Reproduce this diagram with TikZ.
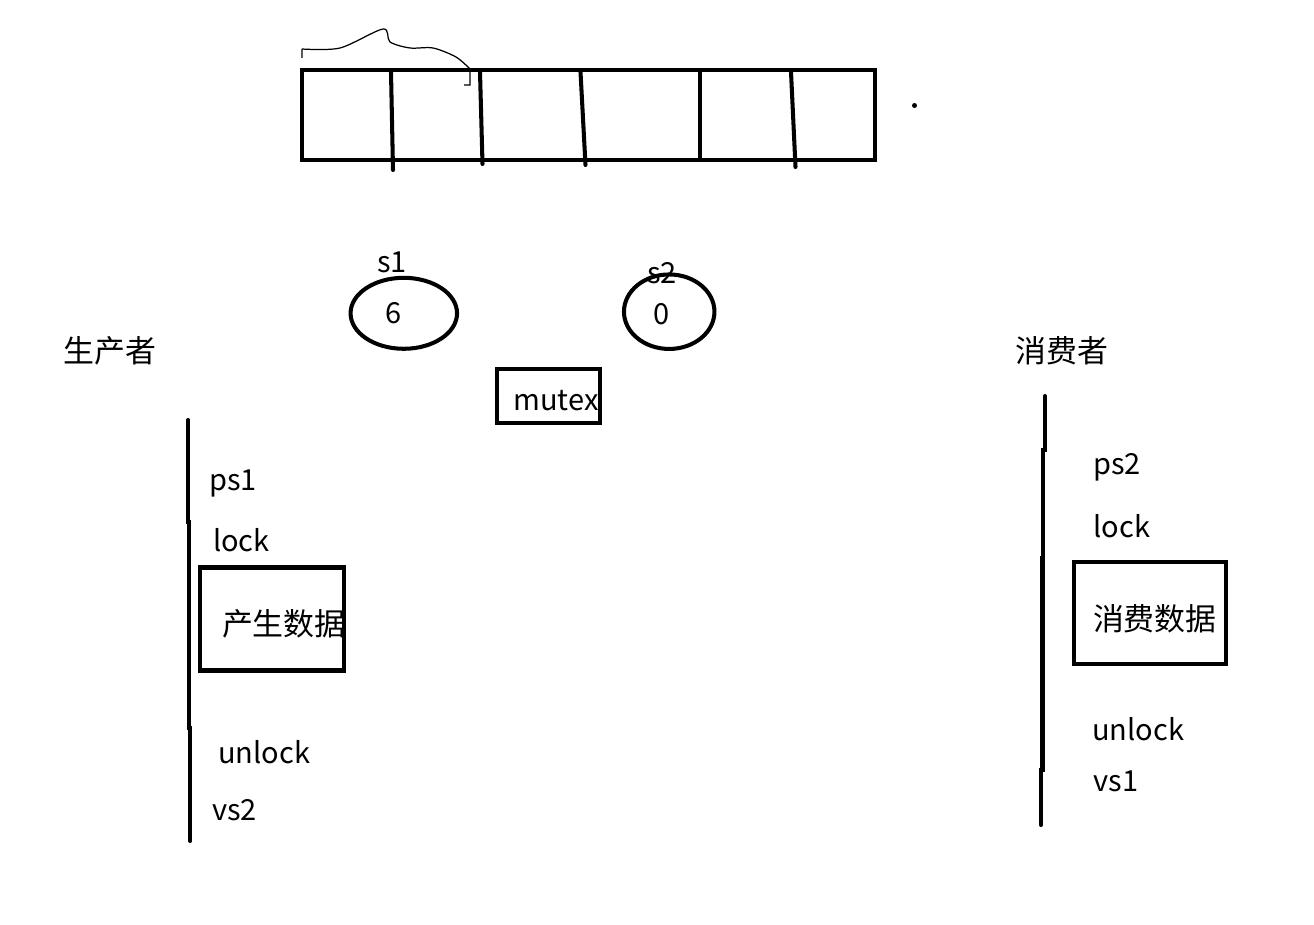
\documentclass[tikz,border=0pt]{standalone}
\usepackage{fontspec}
\setmainfont{Noto Sans CJK SC}
\usepackage{tikz}
\usetikzlibrary{
  shapes.geometric,
}
\tikzset{
  penLine/.style={line width=2.3pt, line cap=round, draw=black},
  thinPen/.style={line width=0.7pt, draw=black},
  semEllipse/.style={
    ellipse, draw=black, line width=2.3pt, inner sep=0pt,
  },
  frameBox/.style={
    rectangle, draw=black, line width=2.3pt, inner sep=0pt,
  },
  txtNode/.style={
    inner sep=0pt, anchor=base west, font=\fontsize{16.5}{19}\selectfont,
  },
  cjkNode/.style={
    txtNode, font=\fontsize{17.6}{20}\selectfont,
  },
}

\begin{document}
\begin{tikzpicture}[x=0.02cm, y=-0.02cm]
\useasboundingbox (0,0) rectangle (1314,925);

% buffer
\node[frameBox, minimum width=11.46cm, minimum height=1.8cm] (buffer) at (588.5,115) {};
\draw[penLine] (391,72) -- (393,170);
\draw[penLine] (480,72) -- (482.5,164);
\draw[penLine] (580.5,72) -- (585.5,165);
\draw[penLine] (700,72) -- (700,158);
\draw[penLine] (791,72) -- (795.5,167);
\draw[thinPen] (302,58) -- (302,49)
  plot[smooth] coordinates {(302,49) (340,48) (383,29) (390,42) (410,48) (433,48) (456,57) (470,69)}
  -- (470,85) -- (464,85);
\node[circle, fill=black, inner sep=0pt, minimum size=0.1cm] (dot) at (914.5,105.5) {};

% semaphores and mutex
\node[semEllipse, minimum width=2.13cm, minimum height=1.42cm] (sOne) at (403.8,313.3) {};
\node[semEllipse, minimum width=1.81cm, minimum height=1.49cm] (sTwo) at (669.2,311.7) {};
\node[txtNode] (sOneName) at (377,273) {s1};
\node[txtNode] (sOneVal) at (385,323.5) {6};
\node[txtNode] (sTwoName) at (647,284) {s2};
\node[txtNode] (sTwoVal) at (653.5,324.5) {0};
\node[frameBox, minimum width=2.06cm, minimum height=1.08cm] (mutexBox) at (548.5,396) {};
\node[txtNode] (mutex) at (513,411) {mutex};

% producer
\node[cjkNode] (producer) at (63.3,362.5) {生产者};
\draw[penLine] (188.3,420) -- (188.3,522) -- (189.3,522) -- (189.3,728)
  -- (190.3,728) -- (190.3,841);
\node[txtNode] (ps1) at (209,490) {ps1};
\node[txtNode] (lockP) at (212.7,551) {lock};
\node[frameBox, minimum width=2.89cm, minimum height=2.06cm] (prodBox) at (272.2,619) {};
\node[cjkNode] (produce) at (221.7,635) {产生数据};
\node[txtNode] (unlockP) at (218,763) {unlock};
\node[txtNode] (vs2) at (211.7,820) {vs2};

% consumer
\node[cjkNode] (consumer) at (1015,362.5) {消费者};
\draw[penLine] (1045,396) -- (1045,450) -- (1043,450) -- (1043,558)
  -- (1042.5,558) -- (1042.5,770) -- (1041,770) -- (1041,825);
\node[txtNode] (ps2) at (1093,474.5) {ps2};
\node[txtNode] (lockC) at (1093.3,537) {lock};
\node[frameBox, minimum width=3.03cm, minimum height=2.05cm] (consBox) at (1150,613) {};
\node[cjkNode] (consume) at (1092.7,630) {消费数据};
\node[txtNode] (unlockC) at (1092,740) {unlock};
\node[txtNode] (vs1) at (1093,791) {vs1};

\end{tikzpicture}
\end{document}
